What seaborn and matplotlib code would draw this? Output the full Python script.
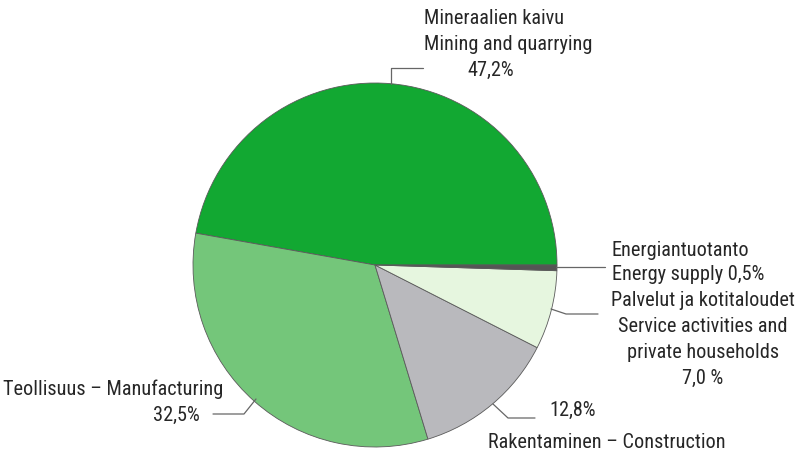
import matplotlib
matplotlib.use("Agg")
import matplotlib.pyplot as plt
import seaborn as sns

# shares by sector, counter-clockwise from 3 o'clock
sectors = ["Mining", "Manufacturing", "Construction", "Services", "Energy"]
shares = [47.2, 32.5, 12.8, 7.0, 0.5]
colors = ["#12a832", "#74c67a", "#b9b9bd", "#e6f6df", "#555555"]

sns.set_theme(style="white")
plt.rcParams["font.family"] = ["Roboto Condensed", "Archivo Narrow", "DejaVu Sans"]

W, H = 803, 454
fig = plt.figure(figsize=(W / 100, H / 100), dpi=100)
ax = fig.add_axes([0, 0, 1, 1])

cx, cy, r = 375, H - 265, 182
wedges, _ = ax.pie(shares, colors=colors, startangle=0, counterclock=True,
                   center=(cx, cy), radius=r, frame=True,
                   wedgeprops=dict(edgecolor="#5a5a5a", linewidth=0.6))
ax.set_xlim(0, W)
ax.set_ylim(0, H)
ax.set_aspect("equal")
ax.axis("off")

fs = 14.6
tc = "#262626"
lc = "#666666"


def leader(pts):
    xs = [p[0] for p in pts]
    ys = [H - p[1] for p in pts]
    ax.plot(xs, ys, color=lc, lw=0.9)


def txt(x, y, s, ha="left"):
    ax.text(x, H - y, s, ha=ha, va="center", fontsize=fs, color=tc)


# Mining
leader([(391, 84), (391, 68), (423, 68)])
txt(424, 18, "Mineraalien kaivu")
txt(424, 44, "Mining and quarrying")
txt(467, 70, "47,2%")

# Energy
leader([(556, 267), (605, 267)])
txt(612, 250, "Energiantuotanto")
txt(612, 275, "Energy supply 0,5%")

# Services
leader([(551, 309), (566, 314), (598, 314)])
txt(703, 300, "Palvelut ja kotitaloudet", ha="center")
txt(703, 326, "Service activities and", ha="center")
txt(703, 352, "private households", ha="center")
txt(703, 378, "7,0 %", ha="center")

# Construction
leader([(493, 404), (508, 418), (535, 418)])
txt(549, 410, "12,8%")
txt(488, 442, "Rakentaminen \u2013 Construction")

# Manufacturing
leader([(256, 399), (244, 414), (213, 414)])
txt(223, 389, "Teollisuus \u2013 Manufacturing", ha="right")
txt(200, 415, "32,5%", ha="right")

fig.savefig("out.png", dpi=100, facecolor="white")
